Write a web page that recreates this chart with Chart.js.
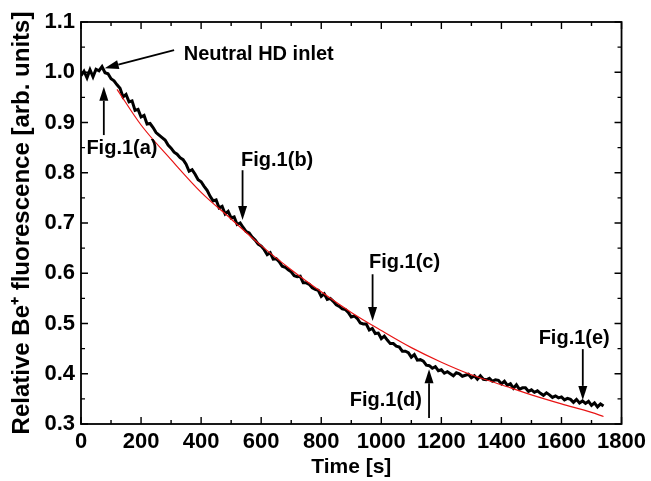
<!DOCTYPE html>
<html>
<head>
<meta charset="utf-8">
<script src="https://cdn.jsdelivr.net/npm/chart.js@4.4.0/dist/chart.umd.min.js"></script>
<style>
  html, body { margin: 0; padding: 0; background: #ffffff; }
  #wrap { width: 651px; height: 481px; position: relative; }
</style>
</head>
<body>
<div id="wrap"><canvas id="c" width="651" height="481"></canvas></div>
<script>
// ---- data ----
const xTickLabels = [0, 200, 400, 600, 800, 1000, 1200, 1400, 1600, 1800];
const yTickLabels = ["0.3", "0.4", "0.5", "0.6", "0.7", "0.8", "0.9", "1.0", "1.1"];

// measured fluorescence, sampled every 10 s from 0 s to 1740 s
const sampleStep = 10;
const measured = [
  0.993, 0.999, 0.991, 1.001, 0.994, 1.004, 0.997, 1.013, 0.996, 1.001,
  0.985, 0.986, 0.971, 0.967, 0.955, 0.953, 0.942, 0.939, 0.927, 0.924,
  0.913, 0.910, 0.900, 0.897, 0.887, 0.884, 0.873, 0.871, 0.861, 0.857,
  0.848, 0.845, 0.834, 0.832, 0.821, 0.818, 0.806, 0.804, 0.794, 0.790,
  0.780, 0.775, 0.762, 0.756, 0.743, 0.742, 0.732, 0.731, 0.722, 0.720,
  0.711, 0.709, 0.700, 0.698, 0.690, 0.687, 0.677, 0.674, 0.664, 0.661,
  0.650, 0.648, 0.640, 0.638, 0.630, 0.628, 0.620, 0.618, 0.610, 0.608,
  0.600, 0.598, 0.592, 0.590, 0.583, 0.582, 0.575, 0.574, 0.566, 0.565,
  0.558, 0.556, 0.550, 0.548, 0.541, 0.540, 0.533, 0.531, 0.524, 0.523,
  0.516, 0.513, 0.507, 0.505, 0.498, 0.497, 0.490, 0.487, 0.481, 0.479,
  0.473, 0.472, 0.466, 0.464, 0.458, 0.456, 0.450, 0.448, 0.443, 0.441,
  0.436, 0.434, 0.429, 0.427, 0.422, 0.420, 0.415, 0.413, 0.410, 0.408,
  0.406, 0.404, 0.401, 0.401, 0.399, 0.399, 0.398, 0.398, 0.396, 0.396,
  0.394, 0.394, 0.392, 0.392, 0.390, 0.390, 0.388, 0.388, 0.386, 0.386,
  0.383, 0.382, 0.378, 0.378, 0.374, 0.374, 0.371, 0.371, 0.369, 0.368,
  0.366, 0.365, 0.363, 0.362, 0.360, 0.359, 0.357, 0.356, 0.354, 0.353,
  0.351, 0.351, 0.349, 0.348, 0.346, 0.346, 0.344, 0.344, 0.342, 0.342,
  0.339, 0.340, 0.337, 0.338, 0.336
];
// small fluctuations of the measured trace around its mean, read as band width
const noise = [
  0.000, 0.003, -0.002, 0.004, -0.003, 0.002, 0.006, -0.002, 0.003, -0.004,
  0.002, -0.003, 0.004, 0.001, -0.004, 0.003, -0.001, 0.004, -0.003, 0.002,
  -0.002, 0.004, -0.003, 0.001, 0.003, -0.004, 0.002, -0.001, 0.004, -0.002,
  0.001, -0.004, 0.003, -0.002, 0.005, -0.001, -0.003, 0.002, 0.003, -0.004,
  0.002, -0.002, 0.003, -0.003, 0.001, 0.004, -0.002, 0.002, -0.004, 0.003,
  -0.001, 0.003, -0.003, 0.002, 0.001, -0.004, 0.003, -0.002, 0.002, -0.003,
  0.004, -0.001, -0.003, 0.003, -0.002, 0.001, 0.003, -0.004, 0.002, -0.001,
  0.003, -0.003, 0.001, 0.004, -0.002, -0.001, 0.003, -0.003, 0.002, 0.001,
  -0.004, 0.003, -0.002, 0.002, 0.003, -0.003, 0.001, -0.002, 0.004, -0.001,
  -0.003, 0.002, 0.003, -0.004, 0.001, 0.002, -0.003, 0.003, -0.001, 0.002,
  -0.003, 0.003, 0.001, -0.004, 0.002, -0.001, 0.003, -0.003, 0.002, 0.001,
  -0.003, 0.004, -0.002, 0.001, 0.003, -0.003, 0.001, -0.002, 0.004, -0.002,
  0.002, -0.003, 0.003, -0.001, -0.003, 0.003, 0.002, -0.003, 0.001, 0.003,
  -0.002, 0.002, -0.003, 0.004, -0.001, -0.002, 0.003, -0.003, 0.002, 0.001,
  -0.003, 0.003, -0.001, 0.002, -0.003, 0.004, -0.002, 0.001, 0.003, -0.003,
  0.002, -0.002, 0.003, -0.001, -0.003, 0.003, 0.001, -0.003, 0.002, -0.001,
  0.003, -0.003, 0.002, 0.001, -0.003, 0.003, -0.002, 0.002, -0.001, 0.003,
  -0.002, 0.002, -0.003, 0.002, 0.000
];

// fitted curve (red)
const fitTimes  = [120, 200, 300, 400, 500, 600, 700, 800, 900, 1000, 1100, 1200, 1300, 1400, 1500, 1600, 1700, 1740];
const fitValues = [0.966, 0.895, 0.826, 0.761, 0.708, 0.655, 0.607, 0.563, 0.522, 0.486, 0.452, 0.423, 0.398, 0.378, 0.358, 0.340, 0.323, 0.315];

// annotations: label, text anchor (t, v), arrow start (t, v), arrow tip (t, v)
const annLabels = ["Neutral HD inlet", "Fig.1(a)", "Fig.1(b)", "Fig.1(c)", "Fig.1(d)", "Fig.1(e)"];
const annText   = [[342, 1.036], [18, 0.849], [533, 0.825], [959, 0.622], [895, 0.346], [1524, 0.471]];
const annFrom   = [[310, 1.044], [76, 0.875], [538, 0.805], [971, 0.598], [1159, 0.312], [1671, 0.449]];
const annTip    = [[79, 1.008],  [76, 0.971], [538, 0.706], [971, 0.505], [1159, 0.409], [1671, 0.348]];

// ---- build chart ----
const measuredPts = measured.map((v, i) => ({ x: i * sampleStep, y: v + noise[i] }));
const fitPts = fitTimes.map((t, i) => ({ x: t, y: fitValues[i] }));

const FONT = "'Liberation Sans', Arial, Helvetica, sans-serif";

const framePlugin = {
  id: 'frame',
  afterDraw(chart) {
    const ctx = chart.ctx;
    const xs = chart.scales.x, ys = chart.scales.y;
    const a = chart.chartArea;
    ctx.save();
    ctx.strokeStyle = '#000';
    ctx.lineWidth = 1.8;
    ctx.strokeRect(a.left, a.top, a.right - a.left, a.bottom - a.top);
    ctx.lineWidth = 1.4;
    ctx.beginPath();
    for (let t = 0; t <= 1800; t += 100) {
      const px = xs.getPixelForValue(t);
      const len = (t % 200 === 0) ? 7 : 4;
      ctx.moveTo(px, a.bottom); ctx.lineTo(px, a.bottom - len);
      ctx.moveTo(px, a.top); ctx.lineTo(px, a.top + len);
    }
    for (let k = 0; k <= 16; k++) {
      const v = 0.3 + k * 0.05;
      const py = ys.getPixelForValue(v);
      const len = (k % 2 === 0) ? 7 : 4;
      ctx.moveTo(a.left, py); ctx.lineTo(a.left + len, py);
      ctx.moveTo(a.right, py); ctx.lineTo(a.right - len, py);
    }
    ctx.stroke();

    // annotations
    ctx.fillStyle = '#000';
    ctx.font = "bold 20px " + FONT;
    ctx.textAlign = 'left';
    ctx.textBaseline = 'middle';
    for (let i = 0; i < annLabels.length; i++) {
      const tx = xs.getPixelForValue(annText[i][0]);
      const ty = ys.getPixelForValue(annText[i][1]);
      ctx.fillText(annLabels[i], tx, ty);
      const x0 = xs.getPixelForValue(annFrom[i][0]);
      const y0 = ys.getPixelForValue(annFrom[i][1]);
      const x1 = xs.getPixelForValue(annTip[i][0]);
      const y1 = ys.getPixelForValue(annTip[i][1]);
      const ang = Math.atan2(y1 - y0, x1 - x0);
      const hl = 14, hw = 4.5;
      const bx = x1 - hl * Math.cos(ang), by = y1 - hl * Math.sin(ang);
      ctx.lineWidth = 1.8;
      ctx.beginPath();
      ctx.moveTo(x0, y0); ctx.lineTo(bx, by);
      ctx.stroke();
      ctx.beginPath();
      ctx.moveTo(x1, y1);
      ctx.lineTo(bx + hw * Math.sin(ang), by - hw * Math.cos(ang));
      ctx.lineTo(bx - hw * Math.sin(ang), by + hw * Math.cos(ang));
      ctx.closePath();
      ctx.fill();
    }
    ctx.restore();
  }
};

new Chart(document.getElementById('c'), {
  type: 'scatter',
  data: {
    datasets: [
      {
        label: 'fit',
        data: fitPts,
        showLine: true,
        borderColor: 'rgb(232,20,20)',
        borderWidth: 1.2,
        pointRadius: 0,
        cubicInterpolationMode: 'monotone',
        order: 0
      },
      {
        label: 'measured',
        data: measuredPts,
        showLine: true,
        borderColor: '#000',
        borderWidth: 3,
        pointRadius: 0,
        tension: 0,
        order: 1
      }
    ]
  },
  options: {
    responsive: false,
    animation: false,
    layout: { padding: { top: 22, right: 25, left: 0, bottom: 0 } },
    plugins: { legend: { display: false }, tooltip: { enabled: false } },
    scales: {
      x: {
        type: 'linear',
        min: 0, max: 1800,
        afterFit: s => { s.height = 57; },
        afterBuildTicks: s => { s.ticks = xTickLabels.map(v => ({ value: v })); },
        grid: { display: false, drawTicks: false },
        border: { display: false },
        ticks: {
          padding: 5,
          color: '#000',
          font: { family: FONT, size: 22, weight: 'bold' },
          maxRotation: 0,
          callback: v => String(v)
        },
        title: {
          display: true,
          text: 'Time [s]',
          color: '#000',
          font: { family: FONT, size: 21, weight: 'bold' },
          padding: { top: 0, bottom: 1 }
        }
      },
      y: {
        type: 'linear',
        min: 0.3, max: 1.1,
        afterFit: s => { s.width = 81; },
        afterBuildTicks: s => { s.ticks = yTickLabels.map(v => ({ value: parseFloat(v) })); },
        grid: { display: false, drawTicks: false },
        border: { display: false },
        ticks: {
          padding: 6,
          color: '#000',
          font: { family: FONT, size: 22, weight: 'bold' },
          callback: (v, i) => yTickLabels[i]
        },
        title: {
          display: true,
          text: 'Relative Be\u207A fluorescence [arb. units]',
          color: '#000',
          font: { family: FONT, size: 24, weight: 'bold' },
          padding: { top: 8, bottom: 0 }
        }
      }
    }
  },
  plugins: [framePlugin]
});
</script>
</body>
</html>
